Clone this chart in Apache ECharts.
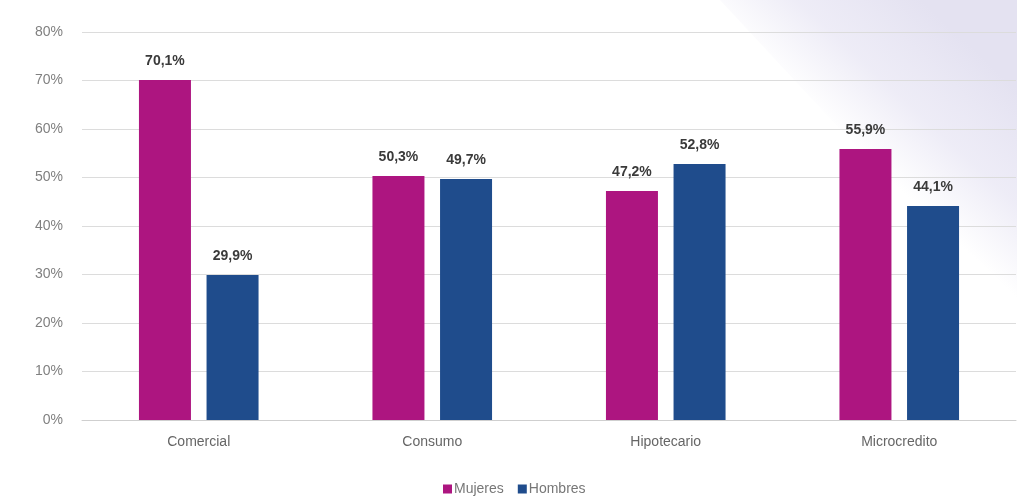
<!DOCTYPE html>
<html><head><meta charset="utf-8">
<script src="https://cdn.jsdelivr.net/npm/echarts@6/dist/echarts.min.js"></script>
<style>html,body{margin:0;padding:0;background:#fff}#c{width:1017px;height:498px}</style>
</head><body><div id="c"></div>
<script>
const categories = ['Comercial', 'Consumo', 'Hipotecario', 'Microcredito'];
const mujeres = [70.1, 50.3, 47.2, 55.9];
const hombres = [29.9, 49.7, 52.8, 44.1];
const seriesNames = ['Mujeres', 'Hombres'];
const yTicks = [0, 10, 20, 30, 40, 50, 60, 70, 80];

const chart = echarts.init(document.getElementById('c'));
const fmt = v => v.toFixed(1).replace('.', ',') + '%';
const labelStyle = {
  show: true, position: 'top', distance: 12,
  fontFamily: 'Liberation Sans, Arial, sans-serif', fontWeight: 'bold',
  fontSize: 14, color: '#3a3a3a',
  formatter: p => fmt(p.value)
};
chart.setOption({
  animation: false,
  backgroundColor: '#ffffff',
  graphic: [{
    type: 'polygon', z: -10, silent: true,
    shape: { points: [[720, 0], [1017, 0], [1017, 320]] },
    style: {
      fill: new echarts.graphic.LinearGradient(0.5, 0.5, 0.85, 0.15, [
        { offset: 0, color: 'rgba(232,230,244,0)' },
        { offset: 0.45, color: 'rgba(232,230,244,0.75)' },
        { offset: 1, color: 'rgba(228,226,241,1)' }
      ])
    }
  }],
  grid: { left: 82, right: 1, top: 32, bottom: 78, containLabel: false },
  legend: {
    data: seriesNames, bottom: -3, left: 438,
    icon: 'rect', itemWidth: 9, itemHeight: 9, itemGap: 14,
    textStyle: { color: '#777', fontSize: 14, fontFamily: 'Liberation Sans, Arial, sans-serif', padding: [0, 0, 0, -3] }
  },
  xAxis: {
    type: 'category', data: categories,
    axisLine: { lineStyle: { color: '#cfcfcf' } },
    axisTick: { show: false },
    axisLabel: { color: '#666', fontSize: 14, margin: 15, fontFamily: 'Liberation Sans, Arial, sans-serif' }
  },
  yAxis: {
    type: 'value', min: 0, max: 80, interval: 10,
    axisLine: { show: false }, axisTick: { show: false },
    axisLabel: { color: '#808080', fontSize: 14, margin: 19, formatter: v => v + '%', fontFamily: 'Liberation Sans, Arial, sans-serif' },
    splitLine: { lineStyle: { color: '#dcdcdc', width: 1 } }
  },
  series: [
    { name: seriesNames[0], type: 'bar', data: mujeres, barWidth: 52, barGap: '30%',
      itemStyle: { color: '#ad1580' }, label: labelStyle },
    { name: seriesNames[1], type: 'bar', data: hombres, barWidth: 52,
      itemStyle: { color: '#1f4c8c' }, label: labelStyle }
  ]
});
</script></body></html>
